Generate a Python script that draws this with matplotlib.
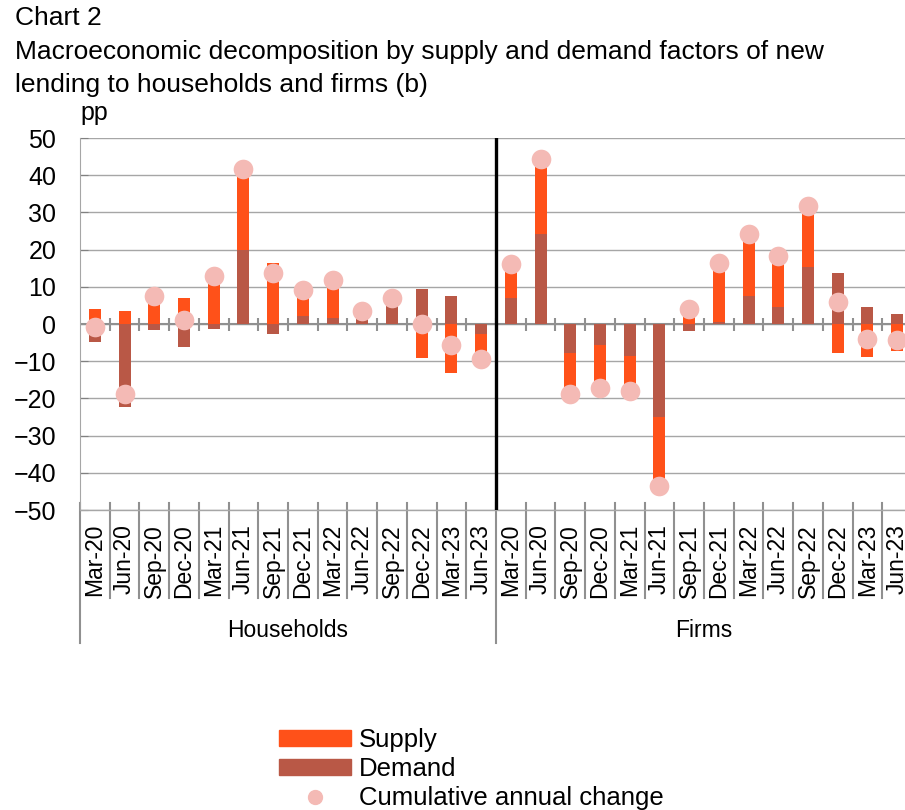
import numpy as np
import matplotlib.pyplot as plt
from matplotlib.patches import Patch
from matplotlib.lines import Line2D
from matplotlib.transforms import blended_transform_factory

plt.rcParams['font.family'] = ['Liberation Sans', 'DejaVu Sans']

# data (pp)
quarters = ['Mar-20', 'Jun-20', 'Sep-20', 'Dec-20', 'Mar-21', 'Jun-21', 'Sep-21',
            'Dec-21', 'Mar-22', 'Jun-22', 'Sep-22', 'Dec-22', 'Mar-23', 'Jun-23']
groups = ['Households', 'Firms']

hh_supply = [3.9, 3.6, 9.0, 7.0, 14.3, 21.8, 16.3, 7.1, 10.2, 1.0, 2.1, -9.2, -13.1, -6.8]
hh_demand = [-4.8, -22.4, -1.5, -6.2, -1.4, 19.9, -2.7, 2.1, 1.6, 2.5, 4.9, 9.3, 7.4, -2.7]
hh_total = [-0.7, -18.7, 7.5, 1.0, 12.9, 41.7, 13.7, 9.2, 11.8, 3.5, 7.0, 0.1, -5.7, -9.5]

fi_supply = [8.9, 20.1, -11.2, -11.5, -9.4, -18.5, 5.7, 15.9, 16.8, 13.6, 16.2, -7.8, -8.9, -7.2]
fi_demand = [7.1, 24.3, -7.7, -5.6, -8.5, -25.1, -1.8, 0.5, 7.4, 4.6, 15.4, 13.7, 4.7, 2.7]
fi_total = [16.0, 44.4, -18.9, -17.1, -17.9, -43.6, 3.9, 16.4, 24.2, 18.2, 31.6, 6.0, -4.0, -4.2]

supply = np.array(hh_supply + fi_supply)
demand = np.array(hh_demand + fi_demand)
total = np.array(hh_total + fi_total)
labels = quarters + quarters

c_supply = '#FF5119'
c_demand = '#B95846'
c_dot = '#F4BAB5'
c_grid = '#A6A6A6'

fig = plt.figure(figsize=(9.05, 8.1), dpi=100)
ax = fig.add_axes([80 / 905, 300 / 810, 832 / 905, 372 / 810])

x = np.arange(len(labels))
# stack like excel: same-sign values pile on top of demand
sup_bottom = np.where(np.sign(supply) == np.sign(demand), demand, 0)
ax.bar(x, demand, width=0.4, color=c_demand, zorder=3)
ax.bar(x, supply, width=0.4, bottom=sup_bottom, color=c_supply, zorder=3)
ax.scatter(x, total, s=200, color=c_dot, zorder=4, linewidths=0)

ax.set_xlim(-0.5, len(labels) - 0.5)
ax.set_ylim(-50, 50)
ax.set_yticks(np.arange(-50, 51, 10))
ax.tick_params(axis='y', direction='in', length=6, color='#808080', labelsize=18, pad=17)
ax.yaxis.grid(True, color=c_grid, lw=1, zorder=0)
for s in ['top', 'right', 'bottom']:
    ax.spines[s].set_visible(False)
ax.spines['left'].set_color(c_grid)

# zero axis with cross ticks between categories
ax.axhline(0, color='#909090', lw=1.5, zorder=2)
bounds = np.arange(0.5, len(labels) - 0.5, 1)
ax.vlines(bounds, -2, 1.5, color='#909090', lw=1.5, zorder=2)

# black divider between households and firms
ax.axvline(13.5, color='black', lw=2.4, zorder=5)

# category labels at the bottom
ax.set_xticks(x)
ax.set_xticklabels(labels, rotation=90, fontsize=16.5)
ax.tick_params(axis='x', length=0, pad=10)

tr = blended_transform_factory(ax.transData, ax.transAxes)
for b in np.arange(-0.5, len(labels) + 0.5, 1):
    low = -0.357 if b in (-0.5, 13.5, 27.5) else -0.237
    ax.plot([b, b], [0.02, low], color='#909090', lw=1.5, transform=tr, clip_on=False)
ax.plot([-0.5, 27.5], [0, 0], color=c_grid, lw=1, transform=tr, clip_on=False)

ax.text(6.5, -0.323, groups[0], transform=tr, ha='center', va='center', fontsize=16.5)
ax.text(20.5, -0.323, groups[1], transform=tr, ha='center', va='center', fontsize=16.5)

ax.text(0, 1.035, 'pp', transform=ax.transAxes, fontsize=18, va='bottom', ha='left')

fig.text(15 / 905, 1 - 18 / 810, 'Chart 2', fontsize=19, va='center', ha='left')
fig.text(15 / 905, 1 - 52 / 810,
         'Macroeconomic decomposition by supply and demand factors of new',
         fontsize=19, va='center', ha='left')
fig.text(15 / 905, 1 - 85 / 810, 'lending to households and firms (b)',
         fontsize=19, va='center', ha='left')

handles = [Patch(color=c_supply), Patch(color=c_demand),
           Line2D([], [], ls='none', marker='o', color=c_dot, markersize=10)]
fig.legend(handles, ['Supply', 'Demand', 'Cumulative annual change'],
           loc='upper left', bbox_to_anchor=(256 / 905, 1 - 705 / 810),
           frameon=False, fontsize=18.5, handlelength=2.8, handleheight=0.55,
           labelspacing=0.2, handletextpad=0.3)

fig.savefig('out.png', dpi=100)
